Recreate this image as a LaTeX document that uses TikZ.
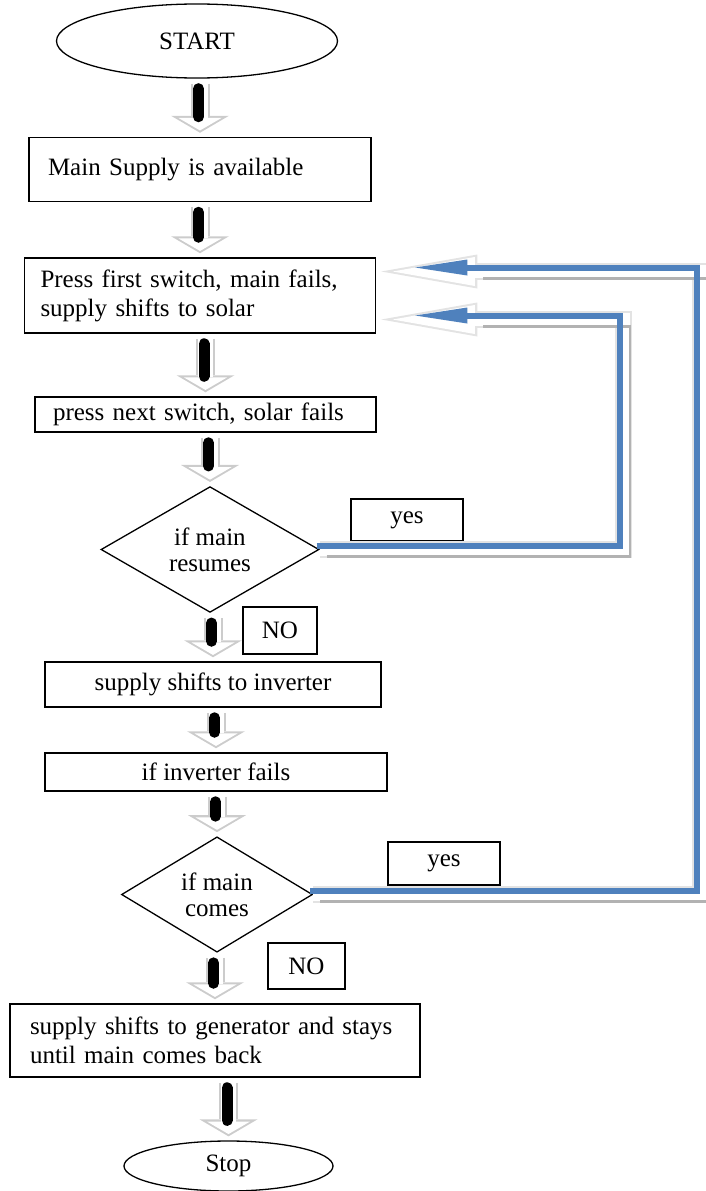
\documentclass[tikz,border=0pt]{standalone}
\usepackage{fontspec}
\setmainfont{Liberation Serif}
\usetikzlibrary{shapes.geometric,arrows.meta,calc}
\definecolor{loopblue}{RGB}{79,129,189}
\begin{document}
\begin{tikzpicture}[x=1pt,y=-1pt,font=\fontsize{25}{29}\selectfont,
  term/.style={ellipse,draw,line width=1.3pt,inner sep=0pt},
  box/.style={rectangle,draw,line width=1.5pt,inner ysep=0pt,align=left},
  decision/.style={diamond,draw,line width=1.3pt,inner sep=0pt,align=center,font=\fontsize{25}{26}\selectfont},
  flowout/.style={draw=gray!40,line width=19pt,-{Triangle[length=17pt,width=58pt,line width=0pt]},shorten <=5pt,shorten >=4pt},
  flowin/.style={draw=white,line width=15pt,-{Triangle[length=12.5pt,width=43pt,line width=0pt]},shorten <=4pt,shorten >=6.3pt},
  flowbar/.style={draw=black,line width=11pt,line cap=round,shorten <=10pt,shorten >=20pt,transform canvas={xshift=-1.5pt}},
  loopout/.style={draw=gray!22,line width=17pt,-{Triangle[length=96pt,width=34pt,line width=0pt]}},
  loopin/.style={draw=white,line width=13pt,-{Triangle[length=82pt,width=29pt,line width=0pt]},shorten >=11.5pt},
  loopshade/.style={draw=gray!60,line width=2.5pt,shorten >=95pt,transform canvas={xshift=7pt,yshift=-7pt}},
  loopline/.style={draw=loopblue,line width=6pt,-{Triangle[length=52pt,width=16pt,line width=0pt]},shorten >=37pt,transform canvas={xshift=-3pt,yshift=4pt}}]
\useasboundingbox (0,0) rectangle (706,1191);

\node[term,minimum width=281pt,minimum height=74pt] (start) at (197,41) {START};
\node[box,text width=304pt,inner xsep=19pt,minimum height=64pt] (mains) at (200,169.5) {Main Supply is available};
\node[box,text width=319pt,inner xsep=16pt,minimum height=75pt] (solar) at (200,295.5) {Press first switch, main fails,\\supply shifts to solar};
\node[box,text width=305pt,inner xsep=18pt,minimum height=35pt] (nextsw) at (205.5,414.5) {press next switch, solar fails};
\node[decision,minimum width=218pt,minimum height=113pt] (resume) at (210,549.5) {if main\\resumes};
\node[box,minimum width=112pt,minimum height=42pt,align=center] (yesa) at (407,520) {yes};
\node[box,minimum width=74pt,minimum height=47pt,align=center] (noa) at (280,630.5) {NO};
\node[box,minimum width=336pt,minimum height=45pt,align=center] (inv) at (213,684.5) {supply shifts to inverter};
\node[box,minimum width=342pt,minimum height=38pt,align=center] (invfail) at (216,772) {if inverter fails};
\node[decision,minimum width=191pt,minimum height=115pt] (comes) at (217,894.5) {if main\\comes};
\node[box,minimum width=112pt,minimum height=43pt,align=center] (yesb) at (444,863.5) {yes};
\node[box,minimum width=77pt,minimum height=46pt,align=center] (nob) at (306.5,966) {NO};
\node[box,text width=370pt,inner xsep=20pt,minimum height=73pt] (gen) at (215,1040.5) {supply shifts to generator and stays\\until main comes back};
\node[term,minimum width=209pt,minimum height=50pt] (stop) at (228.5,1166) {Stop};

% block arrows down the chart
\foreach \a/\b in {start/mains,mains/solar,solar/nextsw,nextsw/resume,resume/inv,inv/invfail,invfail/comes,comes/gen,gen/stop} {
  \draw[flowout] (\a.south -| \b.north) -- (\b.north);
  \draw[flowin] (\a.south -| \b.north) -- (\b.north);
  \draw[flowbar] (\a.south -| \b.north) -- (\b.north);
}

% yes branches back to the solar box
\coordinate (in1) at ($(solar.east)+(5,-24)$);
\coordinate (in2) at ($(solar.east)+(5,24)$);
\coordinate (rt1) at (623,0);
\coordinate (rt2) at (700,0);
\foreach \d/\r/\t in {resume/rt1/in2,comes/rt2/in1} {
  \draw[loopout] (\d.east) -| (\r |- \t) -- (\t);
  \draw[loopin] (\d.east) -| (\r |- \t) -- (\t);
  \draw[loopshade] (\d.east) -| (\r |- \t) -- (\t);
  \draw[loopline] (\d.east) -| (\r |- \t) -- (\t);
}
\end{tikzpicture}
\end{document}
